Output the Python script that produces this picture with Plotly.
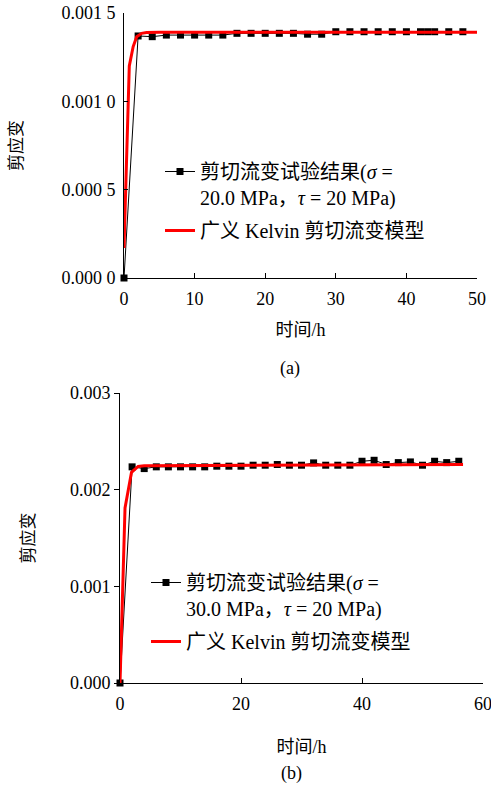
import plotly.graph_objects as go

# ---------------- data (a) ----------------
t_a_exp = [0, 2, 4, 6, 8, 10, 12, 14, 16, 18, 20, 22, 24, 26, 28,
           30, 32, 34, 36, 38, 40, 42, 43, 44, 46, 48]
eps_a_exp = [0.0, 0.001370, 0.001366, 0.001375, 0.001375, 0.001375, 0.001375, 0.001375,
             0.001385, 0.001385, 0.001385, 0.001385, 0.001385, 0.001380, 0.001380,
             0.001394, 0.001394, 0.001394, 0.001394, 0.001394, 0.001394, 0.001394,
             0.001394, 0.001394, 0.001394, 0.001394]
t_a_model = [0, 0.75, 1.3, 1.8, 2.5, 3.2, 5, 10, 20, 30, 40, 50]
eps_a_model = [0.00017, 0.00120, 0.00131, 0.001366, 0.001385, 0.00139, 0.001391,
               0.001391, 0.001391, 0.001391, 0.001391, 0.001391]

# ---------------- data (b) ----------------
t_b_exp = [0, 2, 4, 6, 8, 10, 12, 14, 16, 18, 20, 22, 24, 26, 28,
           30, 32, 34, 36, 38, 40, 42, 44, 46, 48, 50, 52, 54, 56]
eps_b_exp = [0.0, 0.002236, 0.002218, 0.002236, 0.002236, 0.002236, 0.002236, 0.002236,
             0.002243, 0.002243, 0.002243, 0.002253, 0.002253, 0.002260, 0.002253,
             0.002253, 0.002277, 0.002253, 0.002253, 0.002253, 0.002294, 0.002304,
             0.002260, 0.002280, 0.002287, 0.002253, 0.002294, 0.002280, 0.002294]
t_b_model = [0, 0.83, 1.9, 3, 4, 10, 30, 56.7]
eps_b_model = [0.0, 0.00181, 0.00218, 0.00224, 0.002248, 0.00225, 0.002255, 0.00226]

# tick labels
a_xticks = [0, 10, 20, 30, 40, 50]
a_yticks = [0.0, 0.0005, 0.0010, 0.0015]
a_yticktext = ["0.000 0", "0.000 5", "0.001 0", "0.001 5"]
b_xticks = [0, 20, 40, 60]
b_yticks = [0.0, 0.001, 0.002, 0.003]
b_yticktext = ["0.000", "0.001", "0.002", "0.003"]

name_exp_a = "剪切流变试验结果(<i>σ</i> =<br>20.0 MPa，<i>τ</i> = 20 MPa)"
name_exp_b = "剪切流变试验结果(<i>σ</i> =<br>30.0 MPa，<i>τ</i> = 20 MPa)"
name_model = "广义 Kelvin 剪切流变模型"

FONT = "Liberation Serif, Noto Sans CJK SC, serif"
W, H = 491, 787

def px_x(p):
    return p / W

def px_y(p):
    return 1 - p / H

fig = go.Figure()

# (a)
fig.add_trace(go.Scatter(x=t_a_exp, y=eps_a_exp, mode="lines+markers", name=name_exp_a,
                         line=dict(color="black", width=1),
                         marker=dict(symbol="square", size=7, color="black"),
                         legendgroup="a_exp",
                         cliponaxis=False, xaxis="x", yaxis="y", legend="legend"))
fig.add_trace(go.Scatter(x=t_a_model, y=eps_a_model, mode="lines", name=name_model,
                         line=dict(color="#ff0000", width=3),
                         legendgroup="a_model",
                         cliponaxis=False, xaxis="x", yaxis="y", legend="legend"))
# (b)
fig.add_trace(go.Scatter(x=t_b_exp, y=eps_b_exp, mode="lines+markers", name=name_exp_b,
                         line=dict(color="black", width=1),
                         marker=dict(symbol="square", size=7, color="black"),
                         legendgroup="b_exp",
                         cliponaxis=False, xaxis="x2", yaxis="y2", legend="legend2"))
fig.add_trace(go.Scatter(x=t_b_model, y=eps_b_model, mode="lines", name=name_model,
                         line=dict(color="#ff0000", width=3),
                         legendgroup="b_model",
                         cliponaxis=False, xaxis="x2", yaxis="y2", legend="legend2"))

axis_common = dict(showgrid=False, zeroline=False, showline=True, linecolor="black",
                   linewidth=1, tickcolor="black", tickwidth=1, automargin=False,
                   ticklabeloverflow="allow",
                   tickfont=dict(family=FONT, size=18, color="black"))
title_font = dict(family=FONT, size=18, color="black")

fig.update_layout(
    width=W, height=H,
    margin=dict(l=0, r=0, t=0, b=0),
    paper_bgcolor="white", plot_bgcolor="white",
    font=dict(family=FONT, size=18, color="black"),
    showlegend=True,
    xaxis=dict(domain=[px_x(124), px_x(477)], range=[0, 50], anchor="y",
               tickvals=a_xticks, ticks="inside", ticklen=5, ticklabelstandoff=4,
               title=dict(text="时间/h", standoff=15, font=title_font),
               **axis_common),
    yaxis=dict(domain=[px_y(278), px_y(13)], range=[0, 0.0015], anchor="x",
               tickvals=a_yticks, ticktext=a_yticktext, ticks="inside", ticklen=4,
               ticklabelstandoff=4,
               title=dict(text="剪应变", standoff=34, font=dict(family=FONT, size=17)),
               **axis_common),
    xaxis2=dict(domain=[px_x(120), px_x(483)], range=[0, 60], anchor="y2",
                tickvals=b_xticks, ticks="inside", ticklen=5, ticklabelstandoff=4,
                title=dict(text="时间/h", standoff=27, font=title_font),
                **axis_common),
    yaxis2=dict(domain=[px_y(683), px_y(393)], range=[0, 0.003], anchor="x2",
                tickvals=b_yticks, ticktext=b_yticktext, ticks="outside", ticklen=5,
                title=dict(text="剪应变", standoff=30, font=dict(family=FONT, size=17)),
                **axis_common),
    legend=dict(x=px_x(160), y=px_y(152), xanchor="left", yanchor="top",
                bgcolor="rgba(0,0,0,0)", valign="top", tracegroupgap=4,
                font=dict(family=FONT, size=20, color="black")),
    legend2=dict(x=px_x(146), y=px_y(563), xanchor="left", yanchor="top",
                 bgcolor="rgba(0,0,0,0)", valign="top", tracegroupgap=4,
                 font=dict(family=FONT, size=20, color="black")),
    annotations=[
        dict(text="(a)", x=px_x(290), y=px_y(368), xref="paper", yref="paper",
             xanchor="center", yanchor="middle",
             showarrow=False, font=dict(family=FONT, size=18)),
        dict(text="(b)", x=px_x(291), y=px_y(773), xref="paper", yref="paper",
             xanchor="center", yanchor="middle",
             showarrow=False, font=dict(family=FONT, size=18)),
    ],
)

fig.write_html("out.html", config={"displayModeBar": False},
               post_script="document.body.style.margin='0px';")
